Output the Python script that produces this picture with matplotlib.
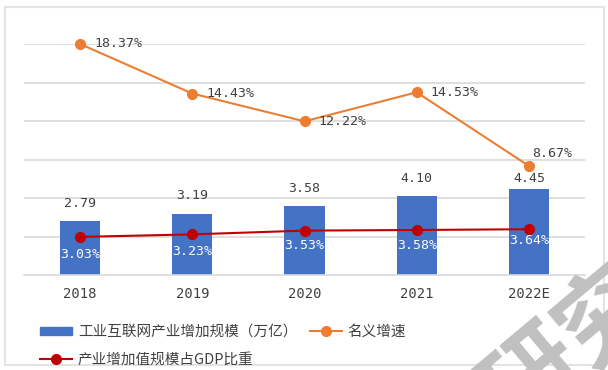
import matplotlib.pyplot as plt
from matplotlib.patches import Rectangle, Patch
from matplotlib.lines import Line2D

years = ['2018', '2019', '2020', '2021', '2022E']
scale = [2.79, 3.19, 3.58, 4.10, 4.45]          # 工业互联网产业增加规模（万亿）
growth = [18.37, 14.43, 12.22, 14.53, 8.67]     # 名义增速 %
gdp_share = [3.03, 3.23, 3.53, 3.58, 3.64]      # 占GDP比重 %

BLUE = '#4472c4'
ORANGE = '#ed7d31'
RED = '#c00000'
GRID = '#d9d9d9'
TXT = '#404040'
NUM_FONT = 'DejaVu Sans Mono'
CJK = ['Noto Sans CJK SC', 'DejaVu Sans']

fig = plt.figure(figsize=(6.08, 3.70), dpi=100)
ax = fig.add_axes([24 / 608, 1 - 275 / 370, 561 / 608, 231 / 370])
x = list(range(len(years)))

ax.bar(x, scale, width=0.36, color=BLUE, zorder=2)
ax.set_ylim(0, 12)
ax.set_xlim(-0.5, len(years) - 0.5)
ax.set_yticks([])
for g in range(2, 13, 2):
    ax.axhline(g, color=GRID, lw=1.2, zorder=0)
ax.set_xticks(x)
ax.set_xticklabels(years, fontfamily=NUM_FONT, fontsize=10, color=TXT)
ax.tick_params(axis='x', length=0, pad=9)
for s in ['top', 'right', 'left']:
    ax.spines[s].set_visible(False)
ax.spines['bottom'].set_color(GRID)
ax.spines['bottom'].set_linewidth(1.2)

# bar value labels (last one sits lower, under the 8.67% label)
bar_dy = [13, 13, 13, 13, 8]
for xi, v in zip(x, scale):
    ax.annotate(f'{v:.2f}', (xi, v), xytext=(0, bar_dy[xi]), textcoords='offset points',
                ha='center', va='center', fontfamily=NUM_FONT, fontsize=9.5, color=TXT)

ax2 = ax.twinx()
ax2.set_ylim(0, 18.37)
ax2.axis('off')
ax.set_yticks([])
ax2.plot(x, growth, color=ORANGE, lw=1.5, marker='o', ms=7, zorder=3, clip_on=False)
ax2.plot(x, gdp_share, color=RED, lw=1.5, marker='o', ms=7, zorder=3, clip_on=False)

for i, v in enumerate(growth):
    if i == len(growth) - 1:
        ax2.annotate(f'{v:.2f}%', (i, v), xytext=(2, 9), textcoords='offset points',
                     ha='left', va='center', fontfamily=NUM_FONT, fontsize=9.5, color=TXT)
    else:
        ax2.annotate(f'{v:.2f}%', (i, v), xytext=(10, 0), textcoords='offset points',
                     ha='left', va='center', fontfamily=NUM_FONT, fontsize=9.5, color=TXT)

share_dy = [-13, -12, -11, -11, -8]
for i, v in enumerate(gdp_share):
    ax2.annotate(f'{v:.2f}%', (i, v), xytext=(0, share_dy[i]), textcoords='offset points',
                 ha='center', va='center', fontfamily=NUM_FONT, fontsize=9.5, color='white')

handles = [Patch(color=BLUE),
           Line2D([], [], color=RED, lw=1.5, marker='o', ms=7),
           Line2D([], [], color=ORANGE, lw=1.5, marker='o', ms=7)]
labels = ['工业互联网产业增加规模（万亿）', '产业增加值规模占GDP比重', '名义增速']
fig.legend(handles, labels, ncol=2, loc='upper left', bbox_to_anchor=(40 / 608, 1 - 325 / 370),
           frameon=False, prop={'family': CJK, 'size': 10.5}, labelcolor=TXT,
           handlelength=2.2, handletextpad=0.4, labelspacing=0.95, columnspacing=0.85,
           borderaxespad=0, borderpad=0, handleheight=0.5)

fig.patches.append(Rectangle((5 / 608, 1 - 365 / 370), 599 / 608, 358 / 370,
                             transform=fig.transFigure, fill=False, edgecolor='#e3e3e3', lw=1.5))

# watermark, cut off by the figure edge as in the source
fig.text(572 / 608, 1 - 348 / 370, '研究', fontfamily=CJK, fontsize=70, fontweight='bold',
         color='#c0c0c0', rotation=40, ha='center', va='center', zorder=10)

fig.savefig('out.png', dpi=100)
